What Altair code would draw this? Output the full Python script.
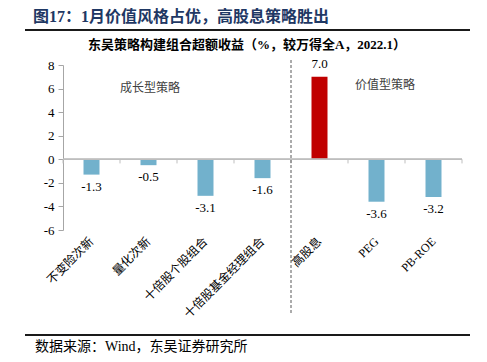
import altair as alt
import pandas as pd

categories = ["不变险次新", "量化次新", "十倍股个股组合", "十倍股基金经理组合", "高股息", "PEG", "PB-ROE"]
values = [-1.3, -0.5, -3.1, -1.6, 7.0, -3.6, -3.2]
colors = ["#72b1cc", "#72b1cc", "#72b1cc", "#72b1cc", "#c00000", "#72b1cc", "#72b1cc"]
y_ticks = [-6, -4, -2, 0, 2, 4, 6, 8]

title_text = "图17：1月价值风格占优，高股息策略胜出"
subtitle_text = "东吴策略构建组合超额收益（%，较万得全A，2022.1）"
source_text = "数据来源：Wind，东吴证券研究所"
group_labels = ["成长型策略", "价值型策略"]

FONT = "Liberation Serif, Noto Sans CJK SC"
W, H = 399, 165

df = pd.DataFrame({
    "cat": categories,
    "val": values,
    "color": colors,
    "lab": [f"{v:.1f}" for v in values],
})

xaxis = alt.Axis(title=None, labelAngle=-45, labelAlign="right", labelBaseline="middle",
                 labelFont=FONT, labelFontSize=12, labelColor="#000000",
                 domain=False, ticks=False, labelPadding=9, labelLimit=200)
xscale = alt.Scale(paddingInner=0, paddingOuter=0)
yaxis = alt.Axis(title=None, values=y_ticks, grid=False, domainColor="#a6a6a6",
                 tickColor="#a6a6a6", tickSize=5, labelFont=FONT, labelFontSize=13,
                 labelColor="#000000", labelPadding=4, labelOverlap=False,
                 labelExpr="datum.value < 0 ? '-' + abs(datum.value) : '' + datum.value")
yscale = alt.Scale(domain=[-6, 8], nice=False, zero=False)

def X(**kw):
    return alt.X("cat:N", sort=categories, scale=xscale, axis=xaxis, **kw)

def Y():
    return alt.Y("val:Q", scale=yscale, axis=yaxis)

base = alt.Chart(df)

bars = base.mark_bar(size=16).encode(
    x=X(), y=Y(), color=alt.Color("color:N", scale=None))

zero_line = alt.Chart(df).mark_rule(color="#bfbfbf", strokeWidth=1).encode(
    y=alt.Y(datum=0, scale=yscale, axis=yaxis), x=alt.value(0), x2=alt.value(W))

ticks = base.mark_rule(color="#bfbfbf").encode(
    x=X(bandPosition=0),
    y=alt.Y(datum=0, scale=yscale, axis=yaxis), y2=alt.datum(-0.35))
end_tick = alt.Chart(pd.DataFrame({"a": [0]})).mark_rule(color="#bfbfbf").encode(
    x=alt.value(W), y=alt.Y(datum=0, scale=yscale, axis=yaxis), y2=alt.datum(-0.35))

divider = alt.Chart(pd.DataFrame({"cat": ["高股息"]})).mark_rule(
    color="#595959", strokeDash=[3, 2], strokeWidth=1).encode(
    x=X(bandPosition=0),
    y=alt.value(-5), y2=alt.value(250))

lab_neg = base.transform_filter("datum.val < 0").mark_text(
    baseline="top", dy=6, font=FONT, fontSize=13, color="#000000").encode(
    x=X(), y=Y(), text="lab:N")
lab_pos = base.transform_filter("datum.val >= 0").mark_text(
    baseline="bottom", dy=-6, font=FONT, fontSize=13, color="#000000").encode(
    x=X(), y=Y(), text="lab:N")

one = pd.DataFrame({"a": [0]})
def txt(t, x, y, size, color="#000000", weight="normal", align="center"):
    return alt.Chart(one).mark_text(text=t, font=FONT, fontSize=size, color=color,
                                    fontWeight=weight, align=align, baseline="middle").encode(
        x=alt.value(x), y=alt.value(y))

def hline(y, x1, x2, w):
    return alt.Chart(one).mark_rule(color="#1a1a1a", strokeWidth=w).encode(
        x=alt.value(x1), x2=alt.value(x2), y=alt.value(y))

title = txt(title_text, -30, -48, 16, color="#1f3864", weight="bold", align="left")
subtitle = txt(subtitle_text, 184, -20, 13, weight="bold")
ann1 = txt(group_labels[0], 87, 23, 12, color="#404040")
ann2 = txt(group_labels[1], 322, 20, 12, color="#404040")
top_line = hline(-35, -38, 407, 2)
bottom_line = hline(270, -38, 407, 2)
source = txt(source_text, -28, 282, 14, align="left")

chart = alt.layer(
    bars, zero_line, ticks, end_tick, divider, lab_neg, lab_pos,
    title, subtitle, ann1, ann2, top_line, bottom_line, source,
).properties(
    width=W, height=H,
    autosize=alt.AutoSizeParams(type="none"),
    padding={"left": 55, "top": 57, "right": 17, "bottom": 124},
).configure_view(stroke=None)

chart.save("out.html", embed_options={"renderer": "svg", "actions": False})
